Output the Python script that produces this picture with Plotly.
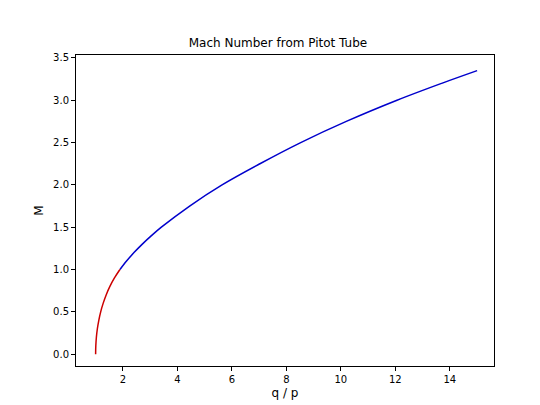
import plotly.graph_objects as go

# subsonic branch (red)
sub_qp = [1.0, 1.007, 1.028, 1.064, 1.117, 1.186, 1.276, 1.387, 1.524, 1.691, 1.893]
sub_M = [0.0, 0.1, 0.2, 0.3, 0.4, 0.5, 0.6, 0.7, 0.8, 0.9, 1.0]
# supersonic branch (blue)
sup_qp = [1.893, 2.135, 2.408, 2.714, 3.049, 3.413, 4.45, 5.64, 7.03, 8.526, 10.2, 12.06, 13.7, 15.0]
sup_M = [1.0, 1.1, 1.2, 1.3, 1.4, 1.5, 1.75, 2.0, 2.25, 2.5, 2.75, 3.0, 3.2, 3.35]

fig = go.Figure()
fig.add_trace(go.Scatter(x=sup_qp, y=sup_M, mode="lines", line=dict(color="#0000cc", width=1.5, shape="spline")))
fig.add_trace(go.Scatter(x=sub_qp, y=sub_M, mode="lines", line=dict(color="#cc0000", width=1.5, shape="spline")))

ax = dict(showline=True, linecolor="black", linewidth=1, mirror=True, ticks="outside",
          ticklen=4, tickcolor="black", showgrid=False, zeroline=False)
fig.update_layout(
    width=540, height=405, showlegend=False, plot_bgcolor="white", paper_bgcolor="white",
    font=dict(family="DejaVu Sans", size=10, color="black"),
    margin=dict(l=68, r=54, t=47, b=47),
    title=dict(text="Mach Number from Pitot Tube", x=0.5, xanchor="center", y=0.925, font=dict(size=12)),
    xaxis=dict(ax, range=[0.28, 15.62], tickvals=[2, 4, 6, 8, 10, 12, 14], title=dict(text="q / p", standoff=4)),
    yaxis=dict(ax, range=[-0.14, 3.535], tickvals=[0, 0.5, 1, 1.5, 2, 2.5, 3, 3.5], tickformat=".1f",
               title=dict(text="M", standoff=6)),
)
fig.write_html("out.html")
